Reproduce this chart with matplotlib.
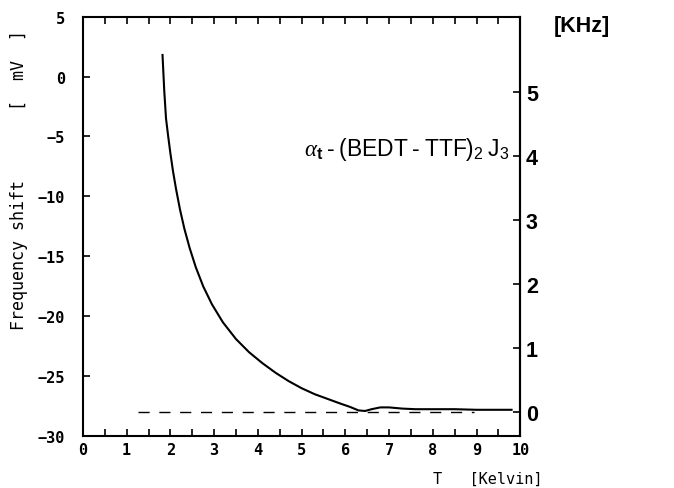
import matplotlib
matplotlib.use("Agg")
import matplotlib.pyplot as plt
import numpy as np

plt.rcParams['mathtext.fontset'] = 'custom'
plt.rcParams['mathtext.rm'] = 'Liberation Sans'
plt.rcParams['mathtext.it'] = 'Liberation Serif:italic'
plt.rcParams['mathtext.bf'] = 'Liberation Sans:bold'

# Frequency shift vs temperature
temperature = [1.82, 1.86, 1.90, 1.95, 2.00, 2.06, 2.13, 2.22, 2.32, 2.44, 2.58,
               2.75, 2.95, 3.20, 3.50, 3.80, 4.10, 4.40, 4.70, 5.00, 5.30, 5.60,
               5.90, 6.10, 6.30, 6.45, 6.60, 6.80, 7.00, 7.30, 7.60, 8.00, 8.50,
               9.00, 9.50, 9.80]
shift_mv = [1.8, -1.2, -3.5, -5.0, -6.4, -7.9, -9.4, -11.1, -12.7, -14.3, -15.9,
            -17.5, -19.0, -20.5, -21.9, -23.0, -23.9, -24.7, -25.4, -26.0, -26.5,
            -26.9, -27.3, -27.55, -27.85, -27.9, -27.75, -27.6, -27.6, -27.7,
            -27.75, -27.75, -27.75, -27.8, -27.8, -27.8]

# Baseline (zero of the kHz scale)
baseline_t = [1.25, 8.95]
baseline_mv = -28.0
khz_per_mv = 1 / 5.35

x_ticks = list(range(0, 11))
y_ticks = [5, 0, -5, -10, -15, -20, -25, -30]
khz_ticks = [0, 1, 2, 3, 4, 5]

mono = 'DejaVu Sans Mono'

fig = plt.figure(figsize=(6.74, 4.89), dpi=100)
ax = fig.add_axes([0.123, 0.106, 0.649, 0.858])

ax.plot(temperature, shift_mv, color='black', lw=1.5)
ax.plot(baseline_t, [baseline_mv, baseline_mv], color='black', lw=1.0,
        dashes=(8, 7))

ax.set_xlim(0, 10)
ax.set_ylim(-30, 5)
ax.set_xticks(x_ticks)
ax.set_xticks(np.arange(0.5, 10, 1.0), minor=True)
ax.set_yticks(y_ticks)
ax.tick_params(axis='both', which='both', direction='in', length=5, width=1.2,
               top=True, right=False)
ax.tick_params(axis='x', which='major', pad=4)
ax.tick_params(axis='y', which='major', pad=13)
for lab in ax.get_xticklabels() + ax.get_yticklabels():
    lab.set_fontfamily(mono)
    lab.set_fontsize(11)
    lab.set_fontweight('bold')
for s in ax.spines.values():
    s.set_linewidth(1.5)

fig.text(0.028, 1 - 330 / 489, 'Frequency shift       [  mV  ]', family=mono,
         fontsize=12, rotation=90, ha='center', va='bottom')
fig.text(0.805, 0.01, 'T   [Kelvin]', family=mono, fontsize=11, ha='right')

# Right-hand scale in kHz
sec = ax.secondary_yaxis('right',
                         functions=(lambda mv: (np.asarray(mv) - baseline_mv) * khz_per_mv,
                                    lambda k: np.asarray(k) / khz_per_mv + baseline_mv))
sec.set_yticks(khz_ticks)
sec.tick_params(direction='in', length=5, width=1.2, labelsize=15.5, pad=4)
for lab in sec.get_yticklabels():
    lab.set_fontfamily('Liberation Sans')
    lab.set_fontweight('bold')
sec.spines['right'].set_linewidth(1.5)
fig.text(0.822, 0.935, '[KHz]', family='Liberation Sans', fontweight='bold',
         fontsize=15.5)

ax.text(5.05, -6.0,
        r'$\alpha_{\mathbf{t}}$' + '\u2009-\u2009(BEDT\u2009-\u2009TTF)' + r'$_2$' + '\u2009J' + r'$_3$',
        family='Liberation Sans', fontsize=16.5, ha='left', va='center')

fig.savefig('out.png', dpi=100)
